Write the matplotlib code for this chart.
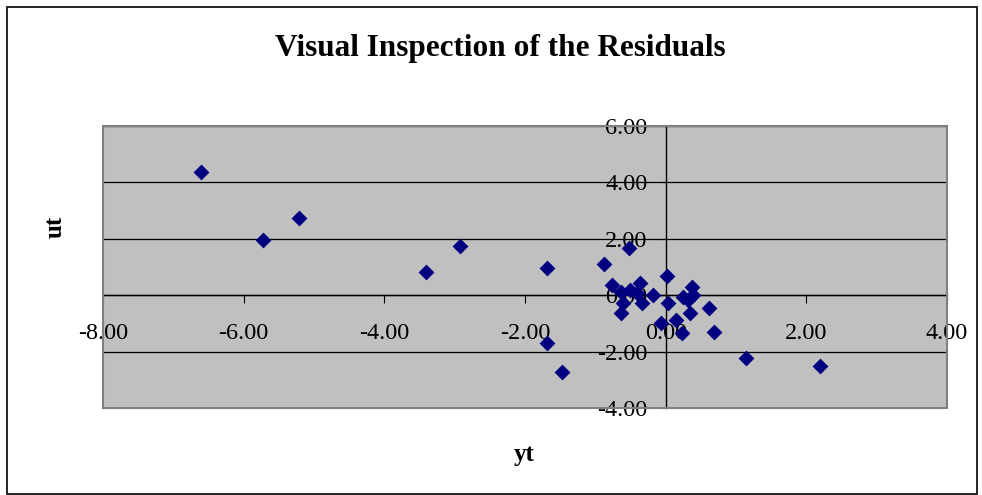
import matplotlib.pyplot as plt
from matplotlib.patches import Rectangle

# yt (fitted / dependent) vs ut (residuals)
yt = [-6.61, -5.72, -5.21, -3.41, -2.93, -1.69, -1.69, -1.47, -0.88, -0.77,
      -0.63, -0.51, -0.37, -0.41, -0.60, -0.63, -0.34, -0.52, -0.18, 0.02,
      0.03, -0.06, 0.15, 0.23, 0.25, 0.32, 0.37, 0.39, 0.35, 0.62,
      0.68, 1.14, 2.19]
ut = [4.38, 1.96, 2.74, 0.81, 1.74, 0.98, -1.68, -2.74, 1.12, 0.36,
      0.12, 0.18, 0.42, 0.07, -0.29, -0.62, -0.29, 1.66, 0.01, 0.69,
      -0.29, -1.00, -0.88, -1.35, -0.07, -0.17, 0.30, 0.02, -0.64, -0.47,
      -1.29, -2.24, -2.51]

x_ticks = [-8, -6, -4, -2, 0, 2, 4]
y_ticks = [-4, -2, 0, 2, 4, 6]

plt.rcParams["font.family"] = ["Liberation Serif", "DejaVu Serif"]

fig = plt.figure(figsize=(9.82, 4.95), dpi=100)
fig.patches.append(Rectangle((0.007, 0.003), 0.988, 0.983, transform=fig.transFigure,
                             fill=False, edgecolor="black", linewidth=1.2))

ax = fig.add_axes([0.1049, 0.1758, 0.8595, 0.5697])
ax.set_facecolor("#C0C0C0")
ax.set_xlim(-8, 4)
ax.set_ylim(-4, 6)

for s in ["top", "right"]:
    ax.spines[s].set_visible(False)
ax.spines["left"].set_position(("data", 0))
ax.spines["bottom"].set_position(("data", 0))
ax.spines["left"].set_linewidth(1.0)
ax.spines["bottom"].set_linewidth(1.0)
# gray frame around the plot area
ax.add_patch(Rectangle((0, 0), 1, 1, transform=ax.transAxes, fill=False,
                       edgecolor="#808080", linewidth=1.5, zorder=5, clip_on=False))

ax.set_yticks(y_ticks)
ax.set_xticks(x_ticks)
ax.set_xticklabels([f"{v:.2f}" for v in x_ticks])
ax.set_yticklabels([f"{v:.2f}" for v in y_ticks])
ax.yaxis.grid(True, color="black", linewidth=0.9)
ax.set_axisbelow(True)
ax.tick_params(axis="x", direction="out", length=6, pad=14, labelsize=17.5)
ax.tick_params(axis="y", direction="out", length=5, pad=8, labelsize=17.5)

ax.scatter(yt, ut, marker="D", s=65, color="#000080", zorder=3, linewidths=0)

fig.text(0.509, 0.903, "Visual Inspection of the Residuals", ha="center", va="center",
         fontsize=22.5, fontweight="bold")
fig.text(0.056, 0.541, "ut", ha="center", va="center", rotation=90,
         fontsize=18, fontweight="bold")
fig.text(0.534, 0.081, "yt", ha="center", va="center", fontsize=18, fontweight="bold")

fig.savefig("out.png", dpi=100)
